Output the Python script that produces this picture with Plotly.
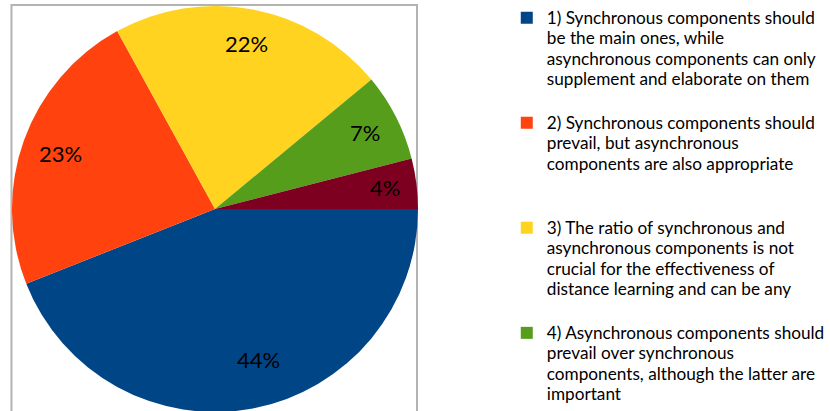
import math
import plotly.graph_objects as go

# Survey answers: preferred balance of synchronous / asynchronous components
answers = [
    [
        "1) Synchronous components should",
        "be the main ones, while",
        "asynchronous components can only",
        "supplement and elaborate on them",
    ],
    [
        "2) Synchronous components should",
        "prevail, but asynchronous",
        "components are also appropriate",
    ],
    [
        "3) The ratio of synchronous and",
        "asynchronous components is not",
        "crucial for the effectiveness of",
        "distance learning and can be any",
    ],
    [
        "4) Asynchronous components should",
        "prevail over synchronous",
        "components, although the latter are",
        "important",
    ],
    [
        "5) Asynchronous components should",
        "be the main ones",
    ],
]
shares = [44, 23, 22, 7, 4]
colors = ["#004586", "#ff420e", "#ffd320", "#579d1c", "#7e0021"]

W, H = 830, 540
FONT = "Lato, Carlito, Calibri, sans-serif"
ROTATION = 90  # first slice starts at 3 o'clock, running clockwise

# pie geometry in pixels (circle fills the square domain)
PX0, PX1 = 12, 419
PY0, PY1 = 5.5, 412.5
CX, CY = (PX0 + PX1) / 2, (PY0 + PY1) / 2
R = (PX1 - PX0) / 2

# legend entries: fixed five-line blocks so every entry has the same height
ENTRY_LINES = 5
LEGEND_TEXT_PX = 17.2


def legend_label(lines):
    spans = [f"<span style='font-size:{LEGEND_TEXT_PX}px'>{t}</span>" for t in lines]
    spans += [" "] * (ENTRY_LINES - len(lines))
    return "<br>".join(spans)


labels = [legend_label(a) for a in answers]

fig = go.Figure(
    go.Pie(
        labels=labels,
        values=shares,
        textinfo="none",
        marker=dict(colors=colors, line=dict(width=0)),
        sort=False,
        direction="clockwise",
        rotation=ROTATION,
        hoverinfo="percent",
        domain=dict(x=[PX0 / W, PX1 / W], y=[1 - PY1 / H, 1 - PY0 / H]),
    )
)

# percentage labels placed near each slice's mid-angle
label_radius = [0.77, 0.81, 0.83, 0.83, 0.845]
label_turn = [-5.5, 0, 0, 0, 0]  # degrees of nudge away from the mid-angle
total = sum(shares)
annotations = []
cum = 0
for v, f, dt in zip(shares, label_radius, label_turn):
    mid = math.radians(ROTATION + (cum + v / 2) / total * 360 + dt)
    cum += v
    xp = CX + f * R * math.sin(mid)
    yp = CY - f * R * math.cos(mid)
    annotations.append(
        dict(
            x=xp / W,
            y=1 - yp / H,
            xref="paper",
            yref="paper",
            text=f"{v}%",
            showarrow=False,
            xanchor="center",
            yanchor="middle",
            font=dict(family=FONT, size=22, color="#000000"),
        )
    )

fig.update_layout(
    width=W,
    height=H,
    margin=dict(l=0, r=0, t=0, b=0),
    paper_bgcolor="white",
    plot_bgcolor="white",
    font=dict(family=FONT, color="#000000"),
    showlegend=True,
    legend=dict(
        x=508 / W,
        y=1 - 1 / H,
        xanchor="left",
        yanchor="top",
        valign="top",
        font=dict(family=FONT, size=15.7, color="#000000"),
        bgcolor="rgba(0,0,0,0)",
    ),
    annotations=annotations,
    shapes=[
        dict(
            type="rect",
            xref="paper",
            yref="paper",
            x0=11.5 / W,
            x1=418 / W,
            y0=-0.1,
            y1=1 - 5 / H,
            line=dict(color="#b3b3b3", width=2),
            layer="below",
        )
    ],
)

fig.write_html(
    "out.html",
    post_script="document.documentElement.style.overflow='hidden';document.body.style.overflow='hidden';",
)
